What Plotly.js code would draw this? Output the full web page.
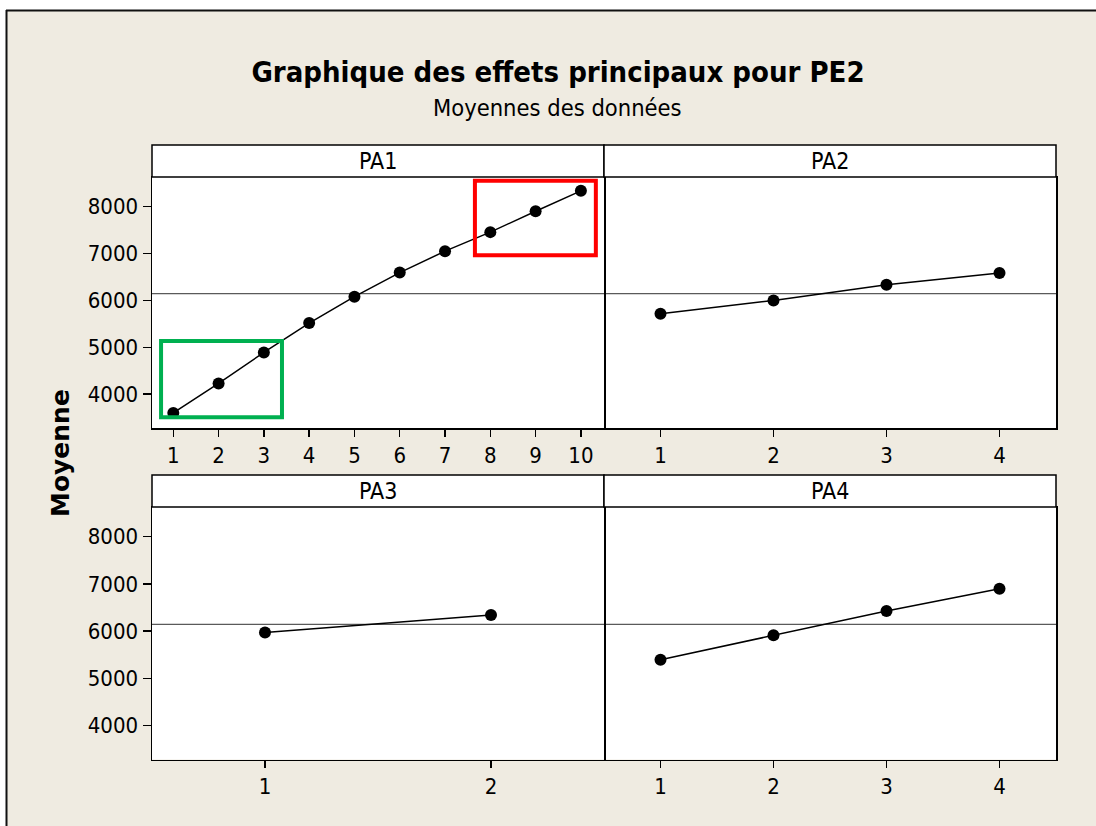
<!DOCTYPE html>
<html>
<head>
<meta charset="utf-8">
<script src="https://cdn.plot.ly/plotly-3.0.1.min.js"></script>
<style>html,body{margin:0;padding:0;background:#fff;}#chart{width:1096px;height:826px;}</style>
</head>
<body>
<div id="chart"></div>
<script>
// ---- data ----
const panelNames = ["PA1", "PA2", "PA3", "PA4"];
const pa1Levels = [1, 2, 3, 4, 5, 6, 7, 8, 9, 10];
const pa1Means  = [3600, 4229, 4891, 5517, 6079, 6592, 7049, 7455, 7901, 8335];
const pa2Levels = [1, 2, 3, 4];
const pa2Means  = [5716, 6000, 6335, 6585];
const pa3Levels = [1, 2];
const pa3Means  = [5972, 6342];
const pa4Levels = [1, 2, 3, 4];
const pa4Means  = [5395, 5915, 6427, 6900];
const grandMean = 6145;
const yTickVals = [4000, 5000, 6000, 7000, 8000];
// highlight boxes on PA1: [x0, x1, y0, y1] in data units
const greenBox = [0.73, 3.40, 3509, 5132];
const redBox   = [7.66, 10.33, 6964, 8549];

const W = 1096, H = 826;
const px = v => v / W;
const py = v => 1 - v / H;

const condensed = "DejaVu Sans Condensed, DejaVu Sans, sans-serif";
const tickFont = {family: condensed, size: 22, color: "#000"};
const yRange = [3280, 8630];

const series = [
  [pa1Levels, pa1Means, "x", "y"],
  [pa2Levels, pa2Means, "x2", "y2"],
  [pa3Levels, pa3Means, "x3", "y3"],
  [pa4Levels, pa4Means, "x4", "y4"]
];
const traces = series.map(s => ({
  type: "scatter", mode: "lines+markers",
  x: s[0], y: s[1], xaxis: s[2], yaxis: s[3],
  line: {color: "#000", width: 1.5},
  marker: {color: "#000", size: 12, symbol: "circle"},
  hoverinfo: "x+y", showlegend: false
}));

const colL = [px(152), px(604)];
const colR = [px(604), px(1056)];
const rowT = [py(428), py(177)];
const rowB = [py(759.5), py(507)];

function xAx(domain, anchor, levels, range) {
  return {
    domain: domain, anchor: anchor, range: range,
    tickmode: "array", tickvals: levels, ticktext: levels.map(String),
    ticks: "outside", ticklen: 7, tickwidth: 1.5, tickcolor: "#000",
    showline: true, mirror: true, linecolor: "#000", linewidth: 1.5,
    showgrid: false, zeroline: false, tickfont: tickFont, fixedrange: true
  };
}
function yAx(domain, anchor, isLeft) {
  return {
    domain: domain, anchor: anchor, range: yRange,
    side: isLeft ? "left" : "right",
    tickmode: "array", tickvals: yTickVals, ticktext: yTickVals.map(String),
    ticks: isLeft ? "outside" : "", ticklen: 8, tickwidth: 1.5, tickcolor: "#000",
    showticklabels: isLeft,
    showline: true, mirror: isLeft, linecolor: "#000", linewidth: 1.5,
    showgrid: false, zeroline: false, tickfont: tickFont, fixedrange: true
  };
}

const shapes = [
  // white margin strips outside the figure frame + frame lines
  {type: "rect", xref: "paper", yref: "paper", x0: 0, x1: 1, y0: py(10), y1: 1, fillcolor: "#fff", line: {width: 0}},
  {type: "rect", xref: "paper", yref: "paper", x0: 0, x1: px(6), y0: 0, y1: 1, fillcolor: "#fff", line: {width: 0}},
  {type: "line", xref: "paper", yref: "paper", x0: px(6), x1: 1, y0: py(10.5), y1: py(10.5), line: {color: "#111", width: 2}},
  {type: "line", xref: "paper", yref: "paper", x0: px(6.5), x1: px(6.5), y0: 0, y1: py(10), line: {color: "#111", width: 2}},
  // strip headers
  {type: "rect", xref: "paper", yref: "paper", x0: colL[0], x1: colL[1], y0: py(177), y1: py(145), fillcolor: "#fff", line: {color: "#000", width: 1.5}},
  {type: "rect", xref: "paper", yref: "paper", x0: colR[0], x1: colR[1], y0: py(177), y1: py(145), fillcolor: "#fff", line: {color: "#000", width: 1.5}},
  {type: "rect", xref: "paper", yref: "paper", x0: colL[0], x1: colL[1], y0: py(507), y1: py(475), fillcolor: "#fff", line: {color: "#000", width: 1.5}},
  {type: "rect", xref: "paper", yref: "paper", x0: colR[0], x1: colR[1], y0: py(507), y1: py(475), fillcolor: "#fff", line: {color: "#000", width: 1.5}}
];
// grand-mean reference lines
[["x", "y"], ["x2", "y2"], ["x3", "y3"], ["x4", "y4"]].forEach(a => {
  shapes.push({type: "line", xref: a[0] + " domain", yref: a[1], x0: 0, x1: 1, y0: grandMean, y1: grandMean,
               line: {color: "#5a5a5a", width: 1.3}, layer: "below"});
});
// highlight boxes
shapes.push({type: "rect", xref: "x", yref: "y", x0: greenBox[0], x1: greenBox[1], y0: greenBox[2], y1: greenBox[3],
             line: {color: "#00B050", width: 4}, fillcolor: "rgba(0,0,0,0)"});
shapes.push({type: "rect", xref: "x", yref: "y", x0: redBox[0], x1: redBox[1], y0: redBox[2], y1: redBox[3],
             line: {color: "#FF0000", width: 4}, fillcolor: "rgba(0,0,0,0)"});

const stripFont = {family: condensed, size: 23, color: "#000"};
const annotations = [
  {text: panelNames[0], xref: "paper", yref: "paper", x: (colL[0] + colL[1]) / 2, y: py(161), xanchor: "center", yanchor: "middle", showarrow: false, font: stripFont},
  {text: panelNames[1], xref: "paper", yref: "paper", x: (colR[0] + colR[1]) / 2, y: py(161), xanchor: "center", yanchor: "middle", showarrow: false, font: stripFont},
  {text: panelNames[2], xref: "paper", yref: "paper", x: (colL[0] + colL[1]) / 2, y: py(491), xanchor: "center", yanchor: "middle", showarrow: false, font: stripFont},
  {text: panelNames[3], xref: "paper", yref: "paper", x: (colR[0] + colR[1]) / 2, y: py(491), xanchor: "center", yanchor: "middle", showarrow: false, font: stripFont},
  {text: "Moyennes des données", xref: "paper", yref: "paper", x: px(557), y: py(108), xanchor: "center", yanchor: "middle", showarrow: false,
   font: {family: condensed, size: 23.5, color: "#000"}},
  {text: "<b>Moyenne</b>", xref: "paper", yref: "paper", x: px(61), y: py(453), xanchor: "center", yanchor: "middle", showarrow: false, textangle: -90,
   font: {family: "DejaVu Sans, sans-serif", size: 25, color: "#000"}}
];

const layout = {
  width: W, height: H,
  margin: {l: 0, r: 0, t: 0, b: 0, pad: 0},
  paper_bgcolor: "#EFEBE1", plot_bgcolor: "#ffffff",
  showlegend: false,
  title: {text: "<b>Graphique des effets principaux pour PE2</b>", x: px(558), xanchor: "center", y: py(72), yanchor: "middle",
          xref: "paper", yref: "paper",
          font: {family: condensed, size: 29, color: "#000"}},
  xaxis:  xAx(colL, "y",  pa1Levels, [0.53, 10.51]),
  xaxis2: xAx(colR, "y2", pa2Levels, [0.5, 4.5]),
  xaxis3: xAx(colL, "y3", pa3Levels, [0.5, 2.5]),
  xaxis4: xAx(colR, "y4", pa4Levels, [0.5, 4.5]),
  yaxis:  yAx(rowT, "x",  true),
  yaxis2: yAx(rowT, "x2", false),
  yaxis3: yAx(rowB, "x3", true),
  yaxis4: yAx(rowB, "x4", false),
  shapes: shapes,
  annotations: annotations
};

Plotly.newPlot("chart", traces, layout, {displayModeBar: false, staticPlot: true});
</script>
</body>
</html>
